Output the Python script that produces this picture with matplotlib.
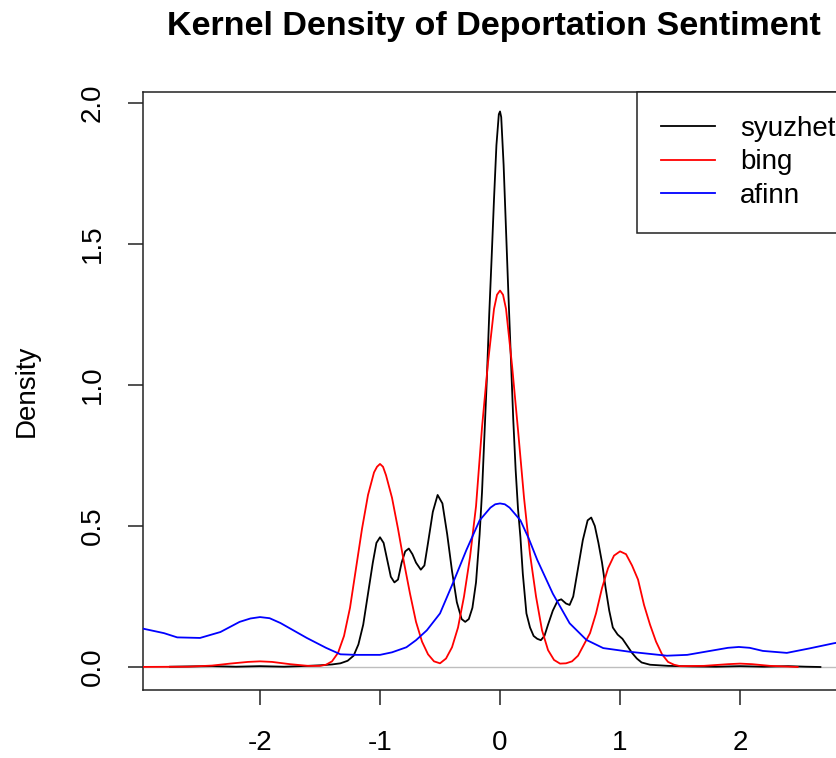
import matplotlib
matplotlib.use('Agg')
import matplotlib.pyplot as plt

# 核密度曲线 (x, 密度)
syuzhet_x = [-2.75, -2.6, -2.4, -2.2, -2.0, -1.8, -1.6, -1.5, -1.4, -1.33, -1.27, -1.22, -1.18,
             -1.14, -1.10, -1.06, -1.03, -1.00, -0.97, -0.94, -0.91, -0.88, -0.85, -0.82, -0.79,
             -0.76, -0.73, -0.70, -0.66, -0.63, -0.60, -0.56, -0.52, -0.48, -0.44, -0.40, -0.36,
             -0.32, -0.29, -0.26, -0.23, -0.20, -0.17, -0.15, -0.13, -0.11, -0.09, -0.07, -0.05,
             -0.03, -0.01, 0.00, 0.01, 0.03, 0.05, 0.07, 0.09, 0.11, 0.13, 0.15, 0.17, 0.19, 0.22,
             0.25, 0.28, 0.31, 0.34, 0.37, 0.40, 0.44, 0.48, 0.51, 0.55, 0.58, 0.61, 0.65, 0.69,
             0.73, 0.76, 0.79, 0.82, 0.85, 0.88, 0.91, 0.94, 0.98, 1.02, 1.06, 1.10, 1.14, 1.18,
             1.25, 1.4, 1.6, 1.8, 2.0, 2.2, 2.4, 2.55, 2.67]
syuzhet_y = [0.001, 0.002, 0.003, 0.001, 0.003, 0.001, 0.004, 0.006, 0.009, 0.013, 0.022, 0.04, 0.08,
             0.15, 0.26, 0.37, 0.44, 0.46, 0.44, 0.38, 0.32, 0.30, 0.31, 0.37, 0.41,
             0.42, 0.40, 0.37, 0.345, 0.36, 0.44, 0.55, 0.61, 0.58, 0.47, 0.34, 0.23,
             0.17, 0.16, 0.17, 0.21, 0.30, 0.47, 0.62, 0.82, 1.02, 1.25, 1.45, 1.66,
             1.85, 1.96, 1.97, 1.95, 1.78, 1.55, 1.32, 1.10, 0.88, 0.70, 0.56, 0.46, 0.33, 0.19,
             0.14, 0.11, 0.10, 0.095, 0.11, 0.15, 0.20, 0.235, 0.24, 0.225, 0.22, 0.25, 0.35, 0.45,
             0.52, 0.53, 0.50, 0.44, 0.37, 0.28, 0.20, 0.14, 0.115, 0.10, 0.075, 0.05, 0.03, 0.016,
             0.008, 0.004, 0.002, 0.001, 0.003, 0.001, 0.003, 0.001, 0.0]

bing_x = [-3.1, -2.6, -2.4, -2.25, -2.1, -2.0, -1.9, -1.75, -1.6, -1.5, -1.45, -1.40, -1.35,
          -1.30, -1.25, -1.20, -1.15, -1.10, -1.05, -1.025, -1.00, -0.975, -0.95, -0.90, -0.85,
          -0.80, -0.75, -0.70, -0.65, -0.60, -0.55, -0.50, -0.45, -0.40, -0.35, -0.30, -0.25,
          -0.20, -0.15, -0.10, -0.05, -0.025, 0.00, 0.025, 0.05, 0.10, 0.15, 0.20, 0.25, 0.30,
          0.35, 0.40, 0.45, 0.50, 0.55, 0.60, 0.65, 0.70, 0.75, 0.80, 0.85, 0.90, 0.95, 1.00,
          1.05, 1.10, 1.15, 1.20, 1.25, 1.30, 1.35, 1.40, 1.45, 1.5, 1.7, 1.9, 2.0, 2.1, 2.25,
          2.48]
bing_y = [0.0, 0.001, 0.005, 0.012, 0.018, 0.02, 0.018, 0.01, 0.004, 0.004, 0.008, 0.02, 0.05,
          0.11, 0.21, 0.35, 0.49, 0.61, 0.69, 0.71, 0.72, 0.71, 0.68, 0.60, 0.49,
          0.37, 0.26, 0.16, 0.09, 0.045, 0.02, 0.013, 0.03, 0.07, 0.14, 0.25, 0.39,
          0.57, 0.85, 1.08, 1.27, 1.32, 1.335, 1.32, 1.27, 1.07, 0.84, 0.60, 0.40, 0.25,
          0.13, 0.06, 0.025, 0.012, 0.013, 0.02, 0.04, 0.08, 0.12, 0.19, 0.28, 0.35, 0.395, 0.41,
          0.40, 0.36, 0.31, 0.22, 0.15, 0.09, 0.045, 0.018, 0.008, 0.003, 0.004, 0.01, 0.012,
          0.01, 0.004, 0.0]

afinn_x = [-3.1, -2.975, -2.8, -2.69, -2.5, -2.33, -2.17, -2.08, -2.0, -1.92, -1.83, -1.61,
           -1.45, -1.33, -1.2, -1.0, -0.9, -0.78, -0.7, -0.61, -0.5, -0.39, -0.28, -0.17, -0.08,
           -0.04, 0.0, 0.04, 0.08, 0.17, 0.24, 0.31, 0.44, 0.58, 0.72, 0.86, 1.08, 1.39, 1.56,
           1.75, 1.9, 1.99, 2.08, 2.19, 2.39, 2.58, 2.78, 3.0]
afinn_y = [0.14, 0.136, 0.12, 0.105, 0.103, 0.124, 0.16, 0.172, 0.177, 0.173, 0.156, 0.103,
           0.068, 0.045, 0.043, 0.043, 0.052, 0.07, 0.095, 0.13, 0.19, 0.30, 0.415, 0.52, 0.565,
           0.577, 0.58, 0.577, 0.565, 0.52, 0.455, 0.38, 0.26, 0.155, 0.096, 0.067, 0.054, 0.04,
           0.043, 0.057, 0.068, 0.071, 0.068, 0.057, 0.05, 0.066, 0.084, 0.1]

x_ticks = [-2, -1, 0, 1, 2]
y_ticks = [0.0, 0.5, 1.0, 1.5, 2.0]
y_tick_labels = ['0.0', '0.5', '1.0', '1.5', '2.0']
series_names = ['syuzhet', 'bing', 'afinn']
series_colors = ['black', 'red', 'blue']

plt.rcParams['font.family'] = ['Liberation Sans', 'DejaVu Sans']
plt.rcParams['font.size'] = 20

W, H = 836, 758
fig = plt.figure(figsize=(W / 100, H / 100), dpi=100)
ax = fig.add_axes([143 / W, (H - 690) / H, (846 - 143) / W, (690 - 92) / H])

ax.axhline(0, color='#bebebe', lw=1, zorder=1)
ax.plot(syuzhet_x, syuzhet_y, color=series_colors[0], lw=1.3, label=series_names[0], zorder=2)
ax.plot(bing_x, bing_y, color=series_colors[1], lw=1.3, label=series_names[1], zorder=3)
ax.plot(afinn_x, afinn_y, color=series_colors[2], lw=1.3, label=series_names[2], zorder=4)

ax.set_xlim(-2.975, 2.883)
ax.set_ylim(-0.0816, 2.039)
ax.set_xticks(x_ticks)
ax.set_xticklabels([str(t) for t in x_ticks])
ax.set_yticks(y_ticks)
ax.set_yticklabels(y_tick_labels, rotation=90, va='center')
ax.tick_params(direction='out', length=11, width=1.1, color='#222222')
ax.tick_params(axis='x', pad=18)
ax.tick_params(axis='y', pad=16)
for s in ax.spines.values():
    s.set_linewidth(1.1)
    s.set_color('#222222')

fig.text(27 / W, 1 - 391 / H, 'Density', rotation=90, ha='center', va='center', fontsize=20)
fig.text(494 / W, 1 - 27 / H, 'Kernel Density of Deportation Sentiment',
         ha='center', va='center', fontsize=24.5, fontweight='bold')

leg = ax.legend(loc='upper left', bbox_to_anchor=((637 - 143) / (846 - 143), 1.0),
                borderaxespad=0, fancybox=False, edgecolor='#222222', framealpha=1,
                handlelength=1.95, handletextpad=0.9, borderpad=0.85, labelspacing=0.28,
                fontsize=20)
leg.get_frame().set_linewidth(1.1)
for line in leg.get_lines():
    line.set_linewidth(1.3)

fig.savefig('out.png', dpi=100)
